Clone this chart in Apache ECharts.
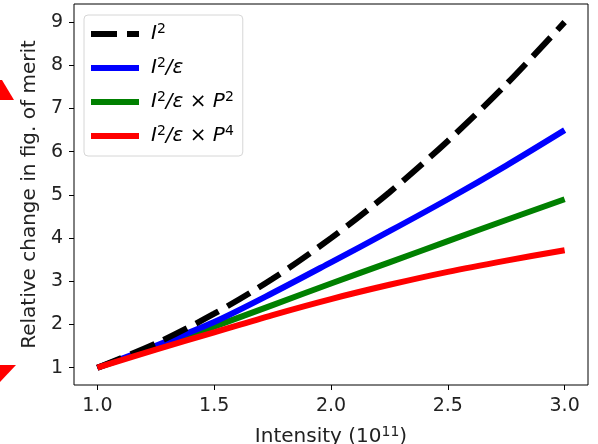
<!DOCTYPE html>
<html>
<head>
<meta charset="utf-8">
<script src="https://cdn.jsdelivr.net/npm/echarts@6/dist/echarts.min.js"></script>
<style>
  html, body { margin: 0; padding: 0; background: #fff; }
  #main { width: 598px; height: 444px; }
</style>
</head>
<body>
<div id="main"></div>
<script>
// intensity in units of 1e11
var intensity = [1.0, 1.25, 1.5, 1.75, 2.0, 2.25, 2.5, 2.75, 3.0];
var sqI      = [1.00, 1.56, 2.25, 3.06, 4.00, 5.06, 6.25, 7.56, 9.00];
var sqIEps   = [1.00, 1.51, 2.06, 2.73, 3.44, 4.16, 4.90, 5.68, 6.50];
var sqIEpsP2 = [1.00, 1.47, 1.95, 2.45, 2.95, 3.44, 3.93, 4.42, 4.90];
var sqIEpsP4 = [1.00, 1.42, 1.82, 2.22, 2.59, 2.92, 3.22, 3.48, 3.72];
var xTicks = [1.0, 1.5, 2.0, 2.5, 3.0];
var yTicks = [1, 2, 3, 4, 5, 6, 7, 8, 9];

var seriesNames = ['I2', 'I2eps', 'I2epsP2', 'I2epsP4'];
var legendText = {
  'I2': '{i|I}{sup|2}',
  'I2eps': '{i|I}{sup|2}{i|/ε}',
  'I2epsP2': '{i|I}{sup|2}{i|/ε} × {i|P}{sup|2}',
  'I2epsP4': '{i|I}{sup|2}{i|/ε} × {i|P}{sup|4}'
};

function pairs(ys) {
  return intensity.map(function (x, i) { return [x, ys[i]]; });
}

var font = 'DejaVu Sans';
var chart = echarts.init(document.getElementById('main'));

var option = {
  animation: false,
  backgroundColor: '#fff',
  grid: {
    left: 74, right: 10, top: 4, bottom: 59,
    outerBoundsMode: 'none',
    show: true, borderColor: '#000', borderWidth: 1, backgroundColor: 'transparent'
  },
  legend: {
    orient: 'vertical',
    left: 84, top: 15,
    padding: [7, 9, 10, 4],
    itemWidth: 48, itemHeight: 14, itemGap: 12,
    backgroundColor: 'rgba(255,255,255,0.8)',
    borderColor: '#d6d6d6', borderWidth: 1, borderRadius: 4,
    data: seriesNames,
    itemStyle: { color: 'rgba(0,0,0,0)', borderColor: 'rgba(0,0,0,0)', borderWidth: 0 },
    lineStyle: { width: 6 },
    formatter: function (name) { return legendText[name]; },
    textStyle: {
      padding: [0, 0, 0, 7],
      fontFamily: font, fontSize: 20, color: '#000',
      rich: {
        i: { fontFamily: font, fontSize: 20, fontStyle: 'italic', color: '#000', lineHeight: 24 },
        sup: { fontFamily: font, fontSize: 14, color: '#000', verticalAlign: 'top', lineHeight: 13 }
      }
    }
  },
  xAxis: {
    type: 'value', min: 0.9, max: 3.1,
    name: 'Intensity (10{sup|11})',
    nameLocation: 'middle', nameGap: 40,
    nameTextStyle: {
      fontFamily: font, fontSize: 20, color: '#222', lineHeight: 24,
      rich: { sup: { fontFamily: font, fontSize: 14, color: '#222', verticalAlign: 'top', lineHeight: 13 } }
    },
    axisLine: { show: false },
    splitLine: { show: false },
    axisTick: { show: true, length: 5, customValues: xTicks, lineStyle: { color: '#000', width: 1 } },
    axisLabel: {
      customValues: xTicks, margin: 12,
      fontFamily: font, fontSize: 19, color: '#222',
      formatter: function (v) { return v.toFixed(1); }
    }
  },
  yAxis: {
    type: 'value', min: 0.6, max: 9.42,
    name: 'Relative change in fig. of merit',
    nameLocation: 'middle', nameGap: 29,
    nameTextStyle: { fontFamily: font, fontSize: 20, color: '#222' },
    axisLine: { show: false },
    splitLine: { show: false },
    axisTick: { show: true, length: 5, customValues: yTicks, lineStyle: { color: '#000', width: 1 } },
    axisLabel: {
      customValues: yTicks, margin: 11,
      fontFamily: font, fontSize: 19, color: '#222'
    }
  },
  series: [
    {
      name: 'I2', type: 'line', data: pairs(sqI), symbol: 'none', smooth: 0.3, z: 5,
      lineStyle: { color: '#000', width: 6, type: [26, 10], cap: 'butt' },
      itemStyle: { color: '#000' }
    },
    {
      name: 'I2eps', type: 'line', data: pairs(sqIEps), symbol: 'none', smooth: 0.3, z: 4,
      lineStyle: { color: '#0000ff', width: 6 },
      itemStyle: { color: '#0000ff' }
    },
    {
      name: 'I2epsP2', type: 'line', data: pairs(sqIEpsP2), symbol: 'none', smooth: 0.3, z: 3,
      lineStyle: { color: '#008000', width: 6 },
      itemStyle: { color: '#008000' }
    },
    {
      name: 'I2epsP4', type: 'line', data: pairs(sqIEpsP4), symbol: 'none', smooth: 0.3, z: 6,
      lineStyle: { color: '#ff0000', width: 6 },
      itemStyle: { color: '#ff0000' }
    }
  ],
  // stray red arrow heads clipped at the left edge
  graphic: [
    { type: 'polygon', shape: { points: [[0, 80], [2, 80], [14, 100], [0, 100]] }, style: { fill: '#ff0000' } },
    { type: 'polygon', shape: { points: [[0, 365], [16, 365], [0, 382]] }, style: { fill: '#ff0000' } }
  ]
};

chart.setOption(option);
</script>
</body>
</html>
